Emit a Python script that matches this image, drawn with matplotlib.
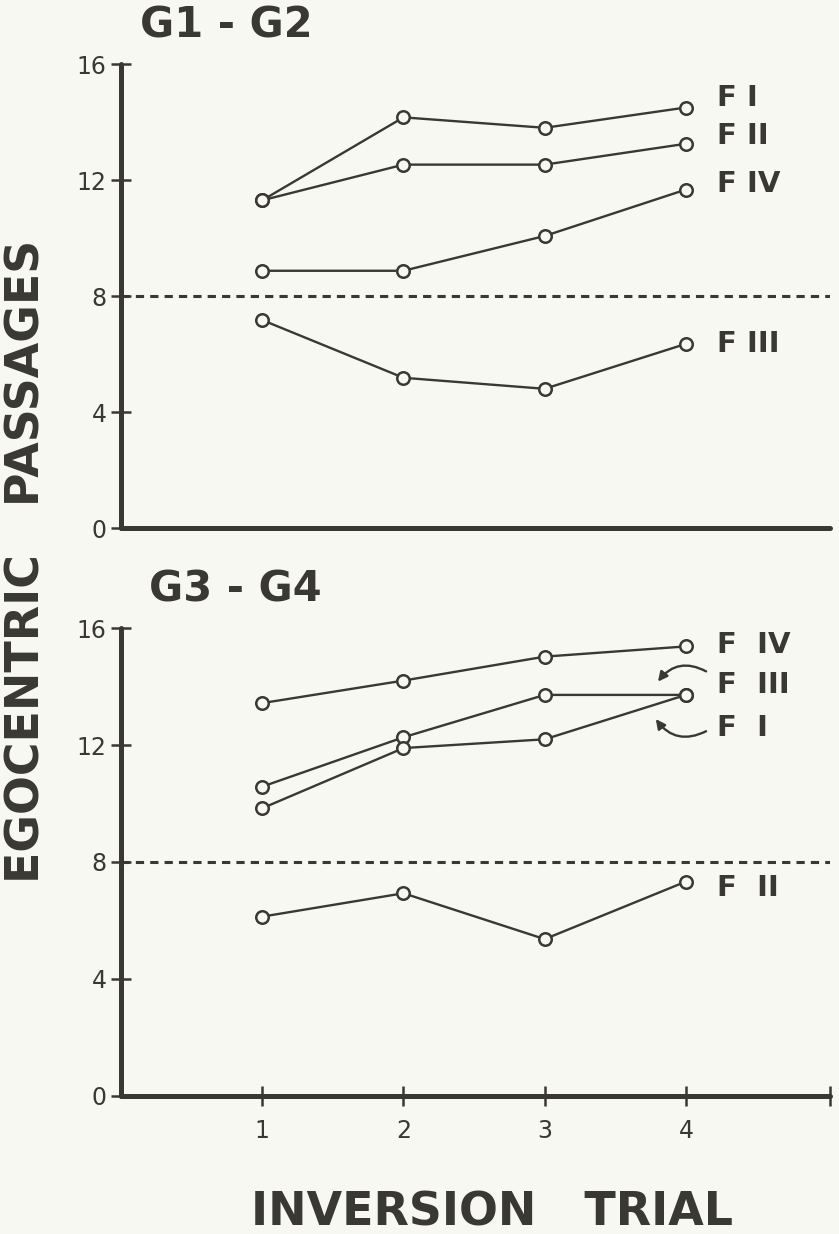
import matplotlib
matplotlib.use("Agg")
import matplotlib.pyplot as plt

# ---------------- data ----------------
trials = [1, 2, 3, 4]
y_ticks = [0, 4, 8, 12, 16]
x_ticks = [1, 2, 3, 4]
chance_level = 8

# G1 - G2 panel
top_FI = [11.3, 14.16, 13.8, 14.5]
top_FII = [11.3, 12.53, 12.53, 13.25]
top_FIV = [8.87, 8.87, 10.07, 11.67]
top_FIII = [7.17, 5.18, 4.8, 6.35]

# G3 - G4 panel
bot_FIV = [13.44, 14.21, 15.03, 15.38]
bot_FIII = [10.58, 12.27, 13.72, 13.72]
bot_FI = [9.84, 11.9, 12.2, 13.72]
bot_FII = [6.13, 6.93, 5.36, 7.33]

top_series = [("F I", top_FI), ("F II", top_FII), ("F IV", top_FIV), ("F III", top_FIII)]
bot_series = [("F  IV", bot_FIV), ("F  III", bot_FIII), ("F  I", bot_FI), ("F  II", bot_FII)]

# ---------------- style ----------------
INK = "#3a3835"
BG = "#f8f8f2"
plt.rcParams["font.family"] = ["DejaVu Sans"]

W, H = 839, 1234
fig = plt.figure(figsize=(W / 100, H / 100), dpi=100, facecolor=BG)

XMAX = 5.02


def make_axes(top_px, bottom_px):
    left = 121
    right = 830
    return fig.add_axes([left / W, 1 - bottom_px / H, (right - left) / W, (bottom_px - top_px) / H])


def style_axes(ax, with_xticks):
    ax.set_facecolor("none")
    ax.set_xlim(0, XMAX)
    ax.set_ylim(0, 16)
    for s in ("top", "right"):
        ax.spines[s].set_visible(False)
    for s in ("left", "bottom"):
        ax.spines[s].set_linewidth(3.6)
        ax.spines[s].set_color(INK)
        ax.spines[s].set_capstyle("round")
    ax.set_yticks(y_ticks)
    ax.set_yticklabels([str(v) for v in y_ticks])
    ax.tick_params(axis="y", direction="inout", length=15, width=1.8, color=INK,
                   labelsize=17, labelcolor=INK, pad=3)
    if with_xticks:
        ax.set_xticks(x_ticks + [XMAX])
        ax.set_xticklabels([str(v) for v in x_ticks] + [""])
        ax.tick_params(axis="x", direction="inout", length=15, width=1.8, color=INK,
                       labelsize=17, labelcolor=INK, pad=9)
    else:
        ax.set_xticks([])
    ax.axhline(chance_level, color=INK, lw=2.2, linestyle=(0, (2.7, 2.0)), zorder=1)


def draw_series(ax, series, label_y):
    for (name, vals), ly in zip(series, label_y):
        ax.plot(trials, vals, color=INK, lw=1.7, marker="o", ms=9,
                mfc=BG, mec=INK, mew=1.8, clip_on=False, zorder=3)
        ax.text(4.22, ly, name, fontsize=21, fontweight="bold", color=INK,
                ha="left", va="center")


ax1 = make_axes(64, 528)
style_axes(ax1, with_xticks=False)
draw_series(ax1, top_series, [14.82, 13.5, 11.86, 6.36])

ax2 = make_axes(628.3, 1095.7)
style_axes(ax2, with_xticks=True)
draw_series(ax2, bot_series, [15.43, 14.07, 12.6, 7.11])

# curved arrows pointing at the shared end point of F III and F I
ax2.annotate("", xy=(3.79, 14.1), xytext=(4.16, 14.48),
             arrowprops=dict(arrowstyle="-|>", color=INK, lw=1.7,
                             mutation_scale=14,
                             connectionstyle="arc3,rad=0.45"))
ax2.annotate("", xy=(3.775, 12.97), xytext=(4.16, 12.52),
             arrowprops=dict(arrowstyle="-|>", color=INK, lw=1.7,
                             mutation_scale=14,
                             connectionstyle="arc3,rad=-0.45"))

# titles and axis labels
fig.text(226 / W, 1 - 25.5 / H, "G1 - G2", fontsize=30, fontweight="bold",
         color=INK, ha="center", va="center")
fig.text(235 / W, 1 - 590 / H, "G3 - G4", fontsize=30, fontweight="bold",
         color=INK, ha="center", va="center")
fig.text(27 / W, 1 - 561.5 / H, "EGOCENTRIC   PASSAGES", fontsize=33,
         fontweight="bold", color=INK, ha="center", va="center", rotation=90)
fig.text(492 / W, 1 - 1213 / H, "INVERSION   TRIAL", fontsize=33,
         fontweight="bold", color=INK, ha="center", va="center")

fig.savefig("out.png", dpi=100, facecolor=BG)
